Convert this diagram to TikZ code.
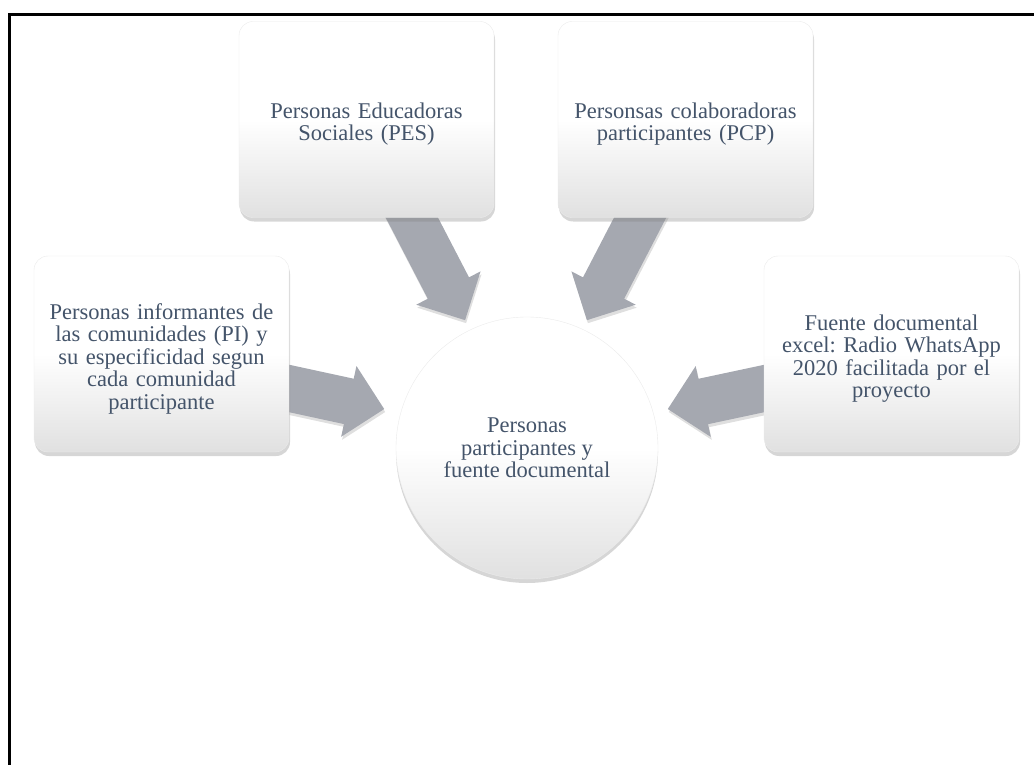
\documentclass[tikz,border=0pt]{standalone}
\usepackage{fontspec}
\setmainfont{Liberation Serif}
\usepackage{xcolor}
\usepackage{tikz}
\usetikzlibrary{shapes.arrows}
\usetikzlibrary{shadows}
\usetikzlibrary{calc}
\definecolor{textblue}{HTML}{44546A}
\definecolor{arrowgray}{HTML}{A5A8B0}
\tikzset{
    sourcebox/.style={
        rectangle,
        rounded corners=14pt,
        minimum width=255pt,
        minimum height=196pt,
        text width=240pt,
        align=center,
        top color=white, bottom color=black!12, middle color=white,
        draw=black!8,
        drop shadow={opacity=0.32, shadow xshift=1pt, shadow yshift=-4pt},
        font=\fontsize{22.5}{22.5}\selectfont\frenchspacing,
        execute at begin node=\rule{0pt}{25pt},
        text=textblue
    },
    hubcircle/.style={
        circle,
        minimum size=262pt,
        inner sep=0pt,
        align=center,
        top color=white, bottom color=black!12, middle color=white,
        draw=black!8,
        drop shadow={opacity=0.32, shadow xshift=0pt, shadow yshift=-4pt},
        font=\fontsize{22.5}{22.5}\selectfont,
        execute at begin node=\rule{0pt}{25pt},
        text=textblue
    },
    blockarrow/.style={
        single arrow,
        fill=arrowgray,
        minimum width=72pt,
        single arrow head extend=13pt,
        single arrow head indent=0pt,
        inner xsep=0pt,
        inner ysep=23pt,
        anchor=tail,
        drop shadow={opacity=0.25, shadow xshift=1pt, shadow yshift=-3pt}
    }
}

\begin{document}
\begin{tikzpicture}[x=1pt, y=-1pt]
    \useasboundingbox (0,0) rectangle (1034,765);

    % frame, only its top and left sides are in view
    \draw[line width=3pt] (9.5,765) -- (9.5,14.5) -- (1034,14.5);

    % arrow ends
    \coordinate (pi-tail) at (250,380);
    \coordinate (pi-tip) at (384,409);
    \coordinate (fd-tail) at (804,380);
    \coordinate (fd-tip) at (668,409);
    \coordinate (pes-tail) at (396,187);
    \coordinate (pes-tip) at (465,320);
    \coordinate (pcp-tail) at (656,187);
    \coordinate (pcp-tip) at (587,320);

    \foreach \src in {pi, fd, pes, pcp} {
        \path let \p1=(\src-tail), \p2=(\src-tip),
            \n1={atan2(\y2-\y1,\x2-\x1)},
            \n2={veclen(\x2-\x1,\y2-\y1)} in
            node[blockarrow, minimum height=\n2, rotate=\n1] (arrow-\src) at (\p1) {};
    }

    \node[sourcebox] (pes) at (366.5,119.5) {Personas Educadoras\\Sociales (PES)};
    \node[sourcebox] (pcp) at (685.5,119.5) {Personsas colaboradoras\\participantes (PCP)};
    \node[sourcebox] (pi) at (161.5,354) {Personas informantes de\\las comunidades (PI) y\\su especificidad segun\\cada comunidad\\participante};
    \node[sourcebox] (fd) at (891.5,354) {Fuente documental\\excel: Radio WhatsApp\\2020 facilitada por el\\proyecto};

    \node[hubcircle] (hub) at (527,448) {Personas\\participantes y\\fuente documental};
\end{tikzpicture}
\end{document}
